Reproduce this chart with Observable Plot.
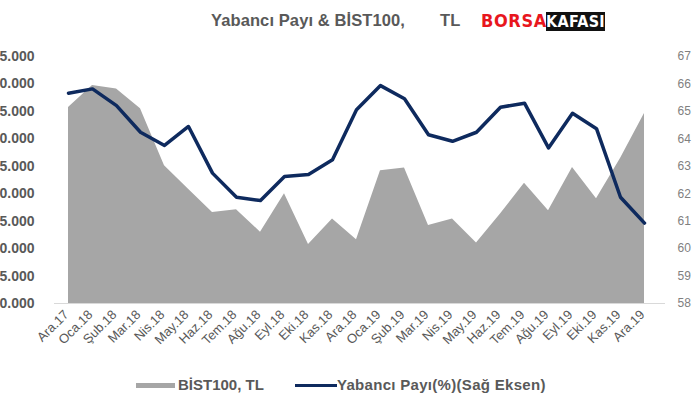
<!DOCTYPE html>
<html><head><meta charset="utf-8">
<script src="https://cdn.jsdelivr.net/npm/d3@7"></script>
<script src="https://cdn.jsdelivr.net/npm/@observablehq/plot@0.6"></script>
<style>
body{margin:0;background:#fff;font-family:"Liberation Sans",Arial,sans-serif;}
#wrap{position:relative;width:700px;height:420px;overflow:hidden;}
#chart{position:absolute;left:0;top:0;}
.abs{position:absolute;white-space:pre;line-height:1;}
.ttl{top:12px;font-size:16.5px;font-weight:bold;color:#595959;letter-spacing:0.1px;}
#borsa{left:481px;top:12px;font-family:"DejaVu Sans Condensed","DejaVu Sans",sans-serif;font-weight:bold;font-size:18px;color:#e8161d;letter-spacing:0.6px;}
#kafasi{left:546px;top:12px;width:59px;height:19px;background:#111;color:#fff;font-family:"DejaVu Sans Condensed","DejaVu Sans",sans-serif;font-weight:bold;font-size:16px;text-align:center;line-height:19px;letter-spacing:0.3px;}
.leg{font-size:15px;font-weight:bold;color:#595959;top:377px;}
.sw{position:absolute;}
</style></head>
<body>
<div id="wrap">
  <div id="chart"></div>
  <div class="abs ttl" style="left:211px">Yabancı Payı &amp; BİST100,</div>
  <div class="abs ttl" style="left:440px">TL</div>
  <div class="abs" id="borsa">BORSA</div>
  <div class="abs" id="kafasi">KAFASI</div>
  <div class="sw" style="left:136px;top:383px;width:39px;height:5px;background:#a6a6a6"></div>
  <div class="abs leg" style="left:178px">BİST100, TL</div>
  <div class="sw" style="left:295px;top:384px;width:42px;height:3px;background:#0e2a5e"></div>
  <div class="abs leg" style="left:337px;letter-spacing:0.3px">Yabancı Payı(%)(Sağ Eksen)</div>
</div>
<script>
const months = ["Ara.17","Oca.18","Şub.18","Mar.18","Nis.18","May.18","Haz.18","Tem.18","Ağu.18","Eyl.18","Eki.18","Kas.18","Ara.18","Oca.19","Şub.19","Mar.19","Nis.19","May.19","Haz.19","Tem.19","Ağu.19","Eyl.19","Eki.19","Kas.19","Ara.19"];
const bist100 = [115700,119700,119100,115500,105100,100800,96600,97100,93000,100000,90750,95400,91600,104200,104700,94200,95400,91000,96300,101900,96900,104800,99100,106400,114600];
const yabanciPayi = [65.66,65.82,65.21,64.24,63.76,64.45,62.75,61.87,61.75,62.63,62.70,63.24,65.06,65.94,65.46,64.15,63.91,64.24,65.15,65.30,63.67,64.93,64.37,61.87,60.93];
const leftTicks = [80000,85000,90000,95000,100000,105000,110000,115000,120000,125000];
const rightTicks = [58,59,60,61,62,63,64,65,66,67];

const data = months.map((m,i)=>({m, bist:bist100[i], pay:yabanciPayi[i]}));
// map right-axis values (58..67) onto left-axis units (80000..125000)
const toLeft = r => 80000 + (r-58)*5000;
const fmt = d3.formatLocale({thousands:".", grouping:[3], decimal:","}).format(",");

const chart = Plot.plot({
  width:700, height:420,
  marginLeft:58, marginRight:46, marginTop:56, marginBottom:117,
  x:{type:"point", domain:months, padding:0, label:null},
  y:{domain:[80000,125000], label:null},
  style:{fontFamily:"Liberation Sans, Arial, sans-serif", background:"transparent", overflow:"hidden"},
  marks:[
    Plot.ruleY([80000],{stroke:"#d9d9d9", strokeWidth:1, insetLeft:-4, insetRight:-11}),
    Plot.areaY(data,{x:"m", y1:80000, y2:"bist", fill:"#a6a6a6", curve:"linear"}),
    Plot.lineY(data,{x:"m", y:d=>toLeft(d.pay), stroke:"#0e2a5e", strokeWidth:3.5, strokeLinejoin:"round"}),
    Plot.axisY(leftTicks,{anchor:"left", tickSize:0, tickPadding:24, tickFormat:fmt, fontSize:14, fontWeight:"bold", fill:"#595959", label:null}),
    Plot.axisY(rightTicks.map(toLeft),{anchor:"right", tickSize:0, tickPadding:23, tickFormat:d=>String(Math.round(58+(d-80000)/5000)), fontSize:12, fill:"#7f7f7f", label:null}),
    Plot.axisX({tickRotate:-45, tickSize:0, tickPadding:9, dx:-2, fontSize:13, fill:"#595959", label:null})
  ]
});
document.getElementById("chart").appendChild(chart);
</script>
</body></html>
